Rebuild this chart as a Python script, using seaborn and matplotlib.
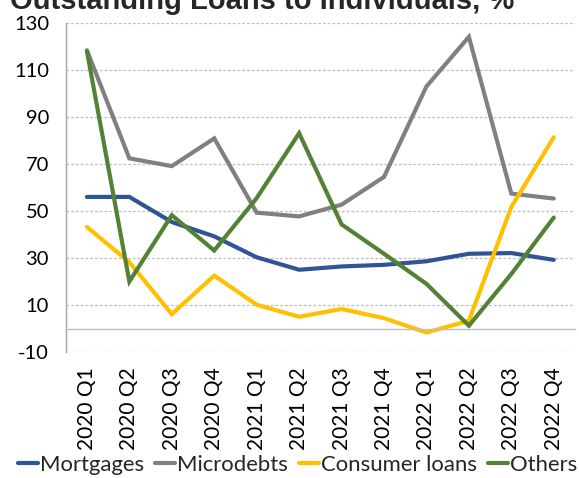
import numpy as np
import pandas as pd
import matplotlib
matplotlib.use("Agg")
import matplotlib.pyplot as plt
import seaborn as sns
from matplotlib.lines import Line2D

quarters = ["2020 Q1", "2020 Q2", "2020 Q3", "2020 Q4",
            "2021 Q1", "2021 Q2", "2021 Q3", "2021 Q4",
            "2022 Q1", "2022 Q2", "2022 Q3", "2022 Q4"]
mortgages = [56.0, 56.0, 45.3, 39.2, 30.3, 25.0, 26.4, 27.1, 28.6, 31.8, 32.1, 29.2]
microdebts = [118.4, 72.4, 69.1, 80.9, 49.3, 47.7, 52.7, 64.5, 103.0, 124.1, 57.4, 55.3]
consumer_loans = [43.2, 28.2, 6.1, 22.5, 10.1, 5.0, 8.3, 4.4, -1.7, 3.3, 51.7, 81.4]
others = [118.0, 20.0, 48.2, 33.2, 55.5, 83.1, 44.3, 31.8, 19.0, 1.2, 23.2, 47.2]
series_names = ["Mortgages", "Microdebts", "Consumer loans", "Others"]
colors = ["#2F5597", "#808080", "#FFC000", "#548235"]
yticks = list(range(-10, 131, 20))
title = "Outstanding Loans to Individuals, %"

sns.set_style("white")
plt.rcParams['font.family'] = ['Lato', 'DejaVu Sans']

frames = []
for name, vals in zip(series_names, [mortgages, microdebts, consumer_loans, others]):
    frames.append(pd.DataFrame({"x": np.arange(len(quarters)), "value": vals, "series": name}))
df = pd.concat(frames, ignore_index=True)

fig = plt.figure(figsize=(5.79, 4.78), dpi=100)
ax = fig.add_axes([65.7 / 579, 1 - 352 / 478, (575 - 65.7) / 579, (352 - 23) / 478])

sns.lineplot(data=df, x="x", y="value", hue="series", hue_order=series_names,
             palette=colors, linewidth=3.0, sort=False, legend=False, ax=ax,
             solid_capstyle="round", solid_joinstyle="miter")

ax.set_xlim(-0.5, len(quarters) - 0.5)
ax.set_ylim(-10, 130)
ax.set_yticks(yticks)
ax.set_yticklabels([str(v) for v in yticks], fontsize=14.5, color="#000000")
for y in yticks:
    ax.axhline(y, color="#BFBFBF", linewidth=0.9, linestyle=(0, (2.2, 1.6)), zorder=0)

ax.spines['top'].set_visible(False)
ax.spines['right'].set_visible(False)
ax.spines['left'].set_color("#A6A6A6")
ax.spines['left'].set_linewidth(1.0)
ax.spines['bottom'].set_position(('data', 0))
ax.spines['bottom'].set_color("#BFBFBF")
ax.spines['bottom'].set_linewidth(1.0)

ax.tick_params(axis='y', which='major', direction='out', length=6, width=0.9,
               color="#BFBFBF", pad=6)
ax.set_xticks(np.arange(len(quarters)))
ax.set_xticklabels(quarters, rotation=90, fontsize=15, color="#000000")
ax.tick_params(axis='x', which='major', length=0, pad=28)
ax.set_xticks(np.arange(0.5, len(quarters), 1.0), minor=True)
ax.tick_params(axis='x', which='minor', direction='out', length=7, width=1.0,
               color="#BFBFBF")
ax.set_xlabel("")
ax.set_ylabel("")

handles = [Line2D([0], [0], color=c, linewidth=3.0) for c in colors]
fig.legend(handles, series_names, loc="lower center", bbox_to_anchor=(0.514, -0.012),
           ncol=4, frameon=False, fontsize=15.9, handlelength=0.9,
           handletextpad=0.1, columnspacing=0.5, borderaxespad=0)

fig.text(10 / 579, 1 - 9 / 478, title, fontsize=21, fontweight="bold",
         family="Liberation Sans", ha="left", va="baseline")

fig.savefig("out.png", dpi=100)
